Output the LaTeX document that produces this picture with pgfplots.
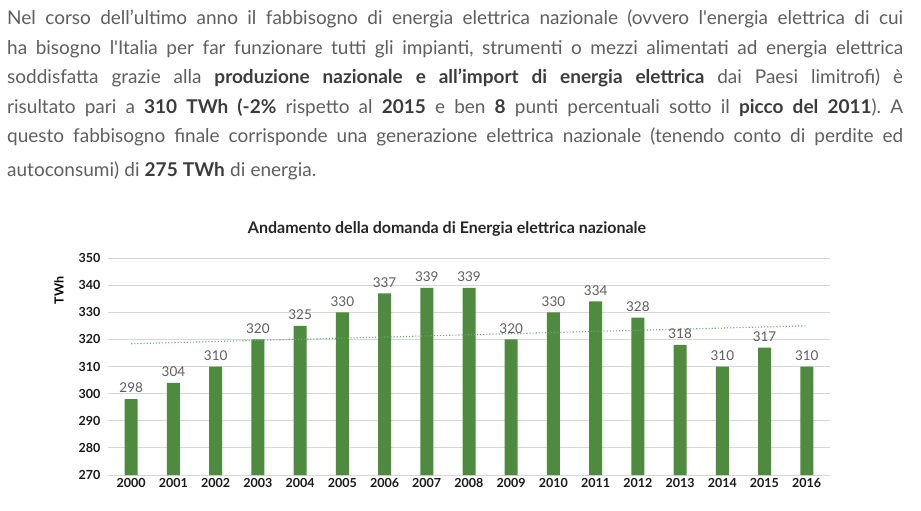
\documentclass[border=0pt]{standalone}
\usepackage{fontspec}
\setmainfont{Lato}
\usepackage{pgfplots}
\pgfplotsset{compat=1.18}
\definecolor{bargreen}{RGB}{78,139,63}
\definecolor{txtgray}{RGB}{95,95,95}
\definecolor{boldgray}{RGB}{60,60,60}
\definecolor{gridgray}{RGB}{215,215,215}
\definecolor{trend}{RGB}{105,170,115}
\begin{document}
\frenchspacing
\begin{tikzpicture}
\path[fill=white] (0bp,0bp) rectangle (921bp,-511bp);
\node[anchor=north west, inner sep=0pt, text width=896bp, align=justify,
  font=\fontsize{19bp}{29.4bp}\selectfont, text=txtgray] at (7bp,-10bp)
{\frenchspacing\spaceskip=5.2bp plus 4bp minus 1.5bp\relax
Nel corso dell’ultimo anno il fabbisogno di energia elettrica nazionale (ovvero l\textquotesingle energia elettrica di cui\linebreak
ha bisogno l\textquotesingle Italia per far funzionare tutti gli impianti, strumenti o mezzi alimentati ad energia elettrica\linebreak
soddisfatta grazie alla \textbf{\color{boldgray}produzione nazionale e all’import di energia elettrica} dai Paesi limitrofi) è\linebreak
risultato pari a \textbf{\color{boldgray}310 TWh (-2\%} rispetto al \textbf{\color{boldgray}2015} e ben \textbf{\color{boldgray}8} punti percentuali sotto il \textbf{\color{boldgray}picco del 2011}). A\linebreak
questo fabbisogno finale corrisponde una generazione elettrica nazionale (tenendo conto di perdite ed\linebreak
\rule{0pt}{30bp}autoconsumi) di \textbf{\color{boldgray}275 TWh} di energia.\par};
\node[font=\bfseries\fontsize{16bp}{19bp}\selectfont, text=black!85] at (447bp,-229bp)
{Andamento della domanda di Energia elettrica nazionale};
\begin{axis}[
  at={(108bp,-475bp)}, anchor=south west,
  width=722bp, height=217bp, scale only axis,
  ymin=270, ymax=350, xmin=1999.45, xmax=2016.55,
  ytick={270,280,...,350},
  xtick={2000,...,2016},
  /pgf/number format/assume math mode=true,
  /pgf/number format/1000 sep={},
  ymajorgrids, grid style={gridgray, line width=0.8pt},
  axis line style={draw=none},
  major tick length=0pt,
  tick label style={font=\bfseries\fontsize{12.5bp}{14bp}\selectfont, text=black!90},
  yticklabel style={xshift=-4bp},
  ylabel={TWh},
  ylabel style={at={(axis description cs:-0.068,0.85)}, anchor=center, font=\bfseries\fontsize{12.5bp}{14bp}\selectfont},
  clip=false,
]
\addplot[ybar, bar width=13bp, fill=bargreen, draw=none,
  nodes near coords, nodes near coords style={font=\fontsize{13.5bp}{15bp}\selectfont, text=txtgray, yshift=2.5bp}]
coordinates {(2000,298)(2001,304)(2002,310)(2003,320)(2004,325)(2005,330)(2006,337)(2007,339)(2008,339)(2009,320)(2010,330)(2011,334)(2012,328)(2013,318)(2014,310)(2015,317)(2016,310)};
\addplot[trend, dotted, line width=1.1pt] coordinates {(2000,318.4)(2016,325.0)};
\end{axis}
\end{tikzpicture}
\end{document}
